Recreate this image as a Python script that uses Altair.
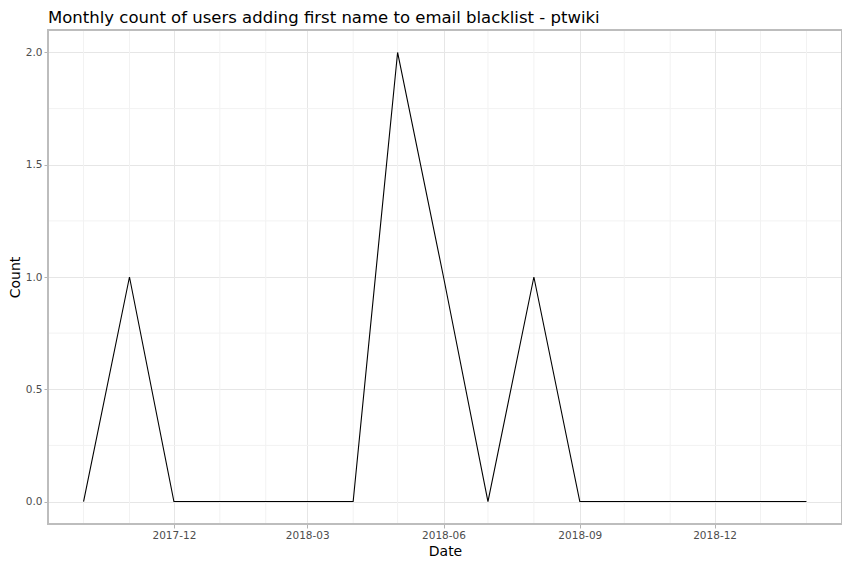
import altair as alt
import pandas as pd

months = ["2017-10-01", "2017-11-01", "2017-12-01", "2018-01-01", "2018-02-01",
          "2018-03-01", "2018-04-01", "2018-05-01", "2018-06-01", "2018-07-01",
          "2018-08-01", "2018-09-01", "2018-10-01", "2018-11-01", "2018-12-01",
          "2019-01-01", "2019-02-01"]
counts = [0, 1, 0, 0, 0, 0, 0, 2, 1, 0, 1, 0, 0, 0, 0, 0, 0]

major_x = ["2017-12-01", "2018-03-01", "2018-06-01", "2018-09-01", "2018-12-01"]
minor_x = [m for m in months if m not in major_x]
major_y = [0.0, 0.5, 1.0, 1.5, 2.0]
minor_y = [0.25, 0.75, 1.25, 1.75]

df = pd.DataFrame({"Date": months, "Count": counts})
df_minor_x = pd.DataFrame({"Date": minor_x})
df_minor_y = pd.DataFrame({"Count": minor_y})

x_domain = [alt.DateTime(year=2017, month=9, date=7, utc=True),
            alt.DateTime(year=2019, month=2, date=25, utc=True)]
x_values = [alt.DateTime(year=int(d[:4]), month=int(d[5:7]), date=1, utc=True) for d in major_x]

xscale = alt.Scale(type="utc", domain=x_domain, nice=False)
yscale = alt.Scale(domain=[-0.1, 2.1], nice=False, zero=False)

xaxis = alt.Axis(values=x_values, format="%Y-%m", title="Date", grid=True,
                 gridColor="#E6E6E6", gridWidth=1, domain=False,
                 tickColor="#B3B3B3", tickSize=4, labelColor="#4D4D4D",
                 labelFontSize=10.5, labelPadding=2, titleFontSize=14,
                 titleFontWeight="normal", titleColor="#000000", titlePadding=4,
                 labelFont="DejaVu Sans", titleFont="DejaVu Sans")
yaxis = alt.Axis(values=major_y, format=".1f", title="Count", grid=True,
                 gridColor="#E6E6E6", gridWidth=1, domain=False,
                 tickColor="#B3B3B3", tickSize=4, labelColor="#4D4D4D",
                 labelFontSize=10.5, labelPadding=2, titleFontSize=14,
                 titleFontWeight="normal", titleColor="#000000", titlePadding=3,
                 labelFont="DejaVu Sans", titleFont="DejaVu Sans")

minor_v = alt.Chart(df_minor_x).mark_rule(color="#F2F2F2", strokeWidth=1).encode(
    x=alt.X("Date:T", scale=xscale, axis=xaxis))
minor_h = alt.Chart(df_minor_y).mark_rule(color="#F2F2F2", strokeWidth=1).encode(
    y=alt.Y("Count:Q", scale=yscale, axis=yaxis))
line = alt.Chart(df).mark_line(color="black", strokeWidth=1.1).encode(
    x=alt.X("Date:T", scale=xscale, axis=xaxis),
    y=alt.Y("Count:Q", scale=yscale, axis=yaxis))
border = alt.Chart(pd.DataFrame({"b": [0]})).mark_rect(
    fill=None, fillOpacity=0, stroke="#BDBDBD", strokeWidth=2).encode(
    x=alt.value(0), x2=alt.value(794), y=alt.value(0), y2=alt.value(494))

chart = alt.layer(minor_v, minor_h, line, border).properties(
    width=794, height=494,
    title=alt.TitleParams("Monthly count of users adding first name to email blacklist - ptwiki",
                          anchor="start", frame="group", fontSize=16.5, fontWeight="normal",
                          font="DejaVu Sans", color="#000000", offset=3),
    autosize=alt.AutoSizeParams(type="none"),
    padding={"left": 40, "top": 22, "right": 0, "bottom": 40},
).configure_view(stroke=None).configure(background="white")

chart.save("out.html", embed_options={"renderer": "svg", "actions": False})
